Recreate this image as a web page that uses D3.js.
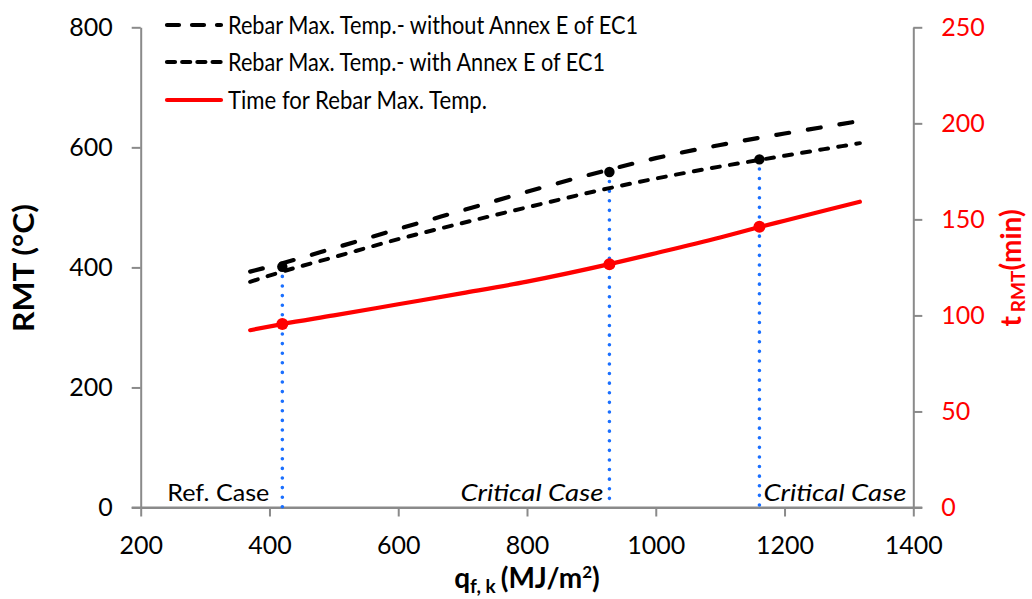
<!DOCTYPE html>
<html>
<head>
<meta charset="utf-8">
<script src="https://cdn.jsdelivr.net/npm/d3@7"></script>
<style>
  html, body { margin: 0; padding: 0; background: #fff; }
  svg { display: block; font-family: Lato, "Open Sans", sans-serif; }
</style>
</head>
<body>
<svg id="chart" width="1032" height="599"></svg>
<script>
// Fire load density (MJ/m²) sampled along the curves
const qfk = [370, 420, 500, 600, 700, 800, 928, 1000, 1100, 1161, 1200, 1317];
// Rebar maximum temperature (°C), without Annex E of EC1
const rmtWithout = [393, 407, 432, 464, 495, 526, 563, 582, 604, 616, 623, 644];
// Rebar maximum temperature (°C), with Annex E of EC1
const rmtWith = [376, 393, 417, 447, 474, 500, 532, 548, 568, 579, 586, 607];
// Time to reach the rebar maximum temperature (min)
const tRmt = [92.3, 95.5, 100, 105.8, 111.6, 117.6, 126.7, 132.4, 140.6, 146.0, 149.3, 159.2];

// Highlighted cases
const caseQ = [420, 928, 1161];
const caseRMT = [401, 559, 580];
const caseTime = [95.5, 126.7, 146.2];
const caseLabels = ["Ref. Case", "Critical Case", "Critical Case"];

// Axis ticks
const xTicks = [200, 400, 600, 800, 1000, 1200, 1400];
const yLeftTicks = [0, 200, 400, 600, 800];
const yRightTicks = [0, 50, 100, 150, 200, 250];

const legendLabels = [
  "Rebar Max. Temp.- without Annex E of EC1",
  "Rebar Max. Temp.- with Annex E of EC1",
  "Time for Rebar Max. Temp."
];

const svg = d3.select("#chart");
const axisColor = "#8a8a8a";
const red = "#ff0000";
const blue = "#1a6fff";

const x = d3.scaleLinear().domain([200, 1400]).range([140.7, 913.3]);
const yL = d3.scaleLinear().domain([0, 800]).range([507.5, 27.3]);
const yR = d3.scaleLinear().domain([0, 250]).range([507.5, 27.3]);

// ---- axes ----
const gx = svg.append("g").attr("transform", `translate(0,${yL(0)})`)
  .call(d3.axisBottom(x).tickValues(xTicks).tickFormat(d3.format("d"))
    .tickSize(9).tickPadding(20).tickSizeOuter(0));
const gyl = svg.append("g").attr("transform", `translate(${x(200)},0)`)
  .call(d3.axisLeft(yL).tickValues(yLeftTicks).tickSize(9).tickPadding(19).tickSizeOuter(0));
const gyr = svg.append("g").attr("transform", `translate(${x(1400)},0)`)
  .call(d3.axisRight(yR).tickValues(yRightTicks).tickSize(9).tickPadding(19).tickSizeOuter(0));

[gx, gyl, gyr].forEach(g => {
  g.select(".domain").attr("stroke", axisColor).attr("stroke-width", 2);
  g.selectAll(".tick line").attr("stroke", axisColor).attr("stroke-width", 2);
  g.selectAll(".tick text").attr("font-size", 25).attr("font-family", "Lato, sans-serif").attr("fill", "#000");
});
gyr.selectAll(".tick text").attr("fill", red);
// extend the x-axis line under the zero ticks of both value axes
svg.append("line").attr("x1", x(200) - 9).attr("x2", x(1400) + 9)
  .attr("y1", yL(0)).attr("y2", yL(0)).attr("stroke", axisColor).attr("stroke-width", 2);

// ---- curves ----
const lineL = d3.line().x((d, i) => x(qfk[i])).y(d => yL(d)).curve(d3.curveMonotoneX);
const lineR = d3.line().x((d, i) => x(qfk[i])).y(d => yR(d)).curve(d3.curveMonotoneX);

// blue dotted drop lines for the highlighted cases
caseQ.forEach((q, i) => {
  svg.append("line")
    .attr("x1", x(q)).attr("x2", x(q))
    .attr("y1", yL(caseRMT[i])).attr("y2", yL(0))
    .attr("stroke", blue).attr("stroke-width", 3.6)
    .attr("stroke-linecap", "round").attr("stroke-dasharray", "0,9.6");
});

svg.append("path").datum(rmtWithout).attr("d", lineL)
  .attr("fill", "none").attr("stroke", "#000").attr("stroke-width", 4.2)
  .attr("stroke-linecap", "round").attr("stroke-dasharray", "13,19");
svg.append("path").datum(rmtWith).attr("d", lineL)
  .attr("fill", "none").attr("stroke", "#000").attr("stroke-width", 4)
  .attr("stroke-linecap", "round").attr("stroke-dasharray", "8,10.3");
svg.append("path").datum(tRmt).attr("d", lineR)
  .attr("fill", "none").attr("stroke", red).attr("stroke-width", 4.2)
  .attr("stroke-linecap", "round");

// case markers
svg.selectAll(".mk-rmt").data(caseQ).join("circle").attr("class", "mk-rmt")
  .attr("cx", d => x(d)).attr("cy", (d, i) => yL(caseRMT[i])).attr("r", 5.2).attr("fill", "#000");
svg.selectAll(".mk-t").data(caseQ).join("circle").attr("class", "mk-t")
  .attr("cx", d => x(d)).attr("cy", (d, i) => yR(caseTime[i])).attr("r", 6).attr("fill", red);

// case labels along the bottom
const caseText = [
  { anchor: "end", dx: -13, italic: false, len: 102 },
  { anchor: "end", dx: -6, italic: true, len: 143 },
  { anchor: "start", dx: 4, italic: true, len: 143 }
];
caseQ.forEach((q, i) => {
  const c = caseText[i];
  svg.append("text")
    .attr("x", x(q) + c.dx).attr("y", 501)
    .attr("text-anchor", c.anchor)
    .attr("font-size", 23.5)
    .attr("font-style", c.italic ? "italic" : "normal")
    .attr("textLength", c.len).attr("lengthAdjust", "spacingAndGlyphs")
    .text(caseLabels[i]);
});

// ---- legend ----
const legendY = [25, 62, 100];
const legendLen = [410, 377, 259];
const legendDash = ["12,13", "8,7.2", null];
const legendStroke = ["#000", "#000", red];
legendLabels.forEach((lab, i) => {
  const ln = svg.append("line")
    .attr("x1", 167).attr("x2", 221).attr("y1", legendY[i]).attr("y2", legendY[i])
    .attr("stroke", legendStroke[i]).attr("stroke-width", 4.2).attr("stroke-linecap", "round");
  if (legendDash[i]) ln.attr("stroke-dasharray", legendDash[i]);
  svg.append("text").attr("x", 228).attr("y", legendY[i] + 9)
    .attr("font-size", 25)
    .attr("textLength", legendLen[i]).attr("lengthAdjust", "spacingAndGlyphs")
    .text(lab);
});

// ---- axis titles ----
svg.append("text")
  .attr("transform", "translate(34,268) rotate(-90)")
  .attr("text-anchor", "middle").attr("font-size", 28).attr("font-weight", "bold")
  .attr("textLength", 128).attr("lengthAdjust", "spacingAndGlyphs")
  .text("RMT (°C)");

const rt = svg.append("text")
  .attr("transform", "translate(1021,268) rotate(-90)")
  .attr("text-anchor", "middle").attr("font-size", 28).attr("font-weight", "bold")
  .attr("fill", red);
rt.append("tspan").text("t");
rt.append("tspan").attr("font-size", 19).attr("dx", 4).attr("dy", 4).text("RMT");
rt.append("tspan").attr("dy", -4).text("(min)");

const xt = svg.append("text")
  .attr("x", (x(200) + x(1400)) / 2).attr("y", 588)
  .attr("text-anchor", "middle").attr("font-size", 28).attr("font-weight", "bold");
xt.append("tspan").text("q");
xt.append("tspan").attr("font-size", 19).attr("dy", 5).text("f, k");
xt.append("tspan").attr("dy", -5).attr("dx", 5).text("(MJ/m");
xt.append("tspan").attr("font-size", 17).attr("dy", -10).text("2");
xt.append("tspan").attr("dy", 10).text(")");
</script>
</body>
</html>
